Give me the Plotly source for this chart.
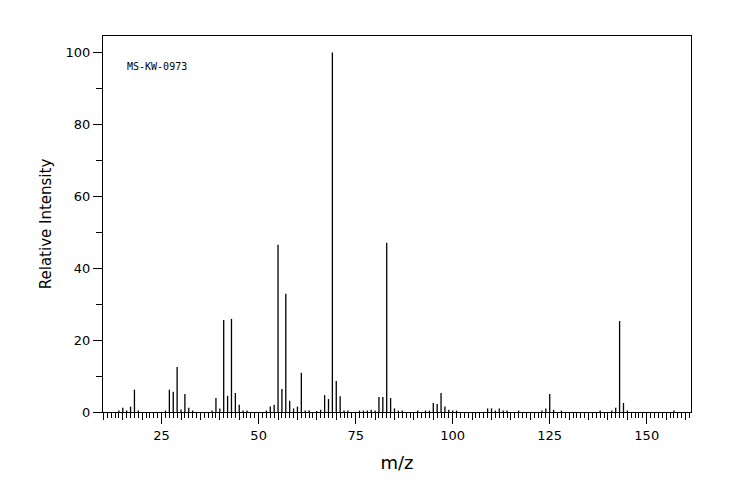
import plotly.graph_objects as go

mz = [14, 15, 16, 17, 18, 19, 26, 27, 28, 29, 30, 31, 32, 33, 38, 39, 40, 41, 42, 43,
      44, 45, 46, 47, 52, 53, 54, 55, 56, 57, 58, 59, 60, 61, 62, 63, 65, 66, 67, 68,
      69, 70, 71, 72, 73, 76, 77, 78, 79, 80, 81, 82, 83, 84, 85, 86, 87, 91, 93, 94,
      95, 96, 97, 98, 99, 100, 101, 109, 110, 111, 112, 113, 114, 117, 123, 124, 125,
      126, 128, 138, 141, 142, 143, 144, 145, 157]
intensity = [0.4, 1.2, 0.4, 1.5, 6.2, 0.4, 0.4, 6.2, 5.6, 12.5, 0.7, 5.0, 1.2, 0.4, 0.4, 3.9, 1.0, 25.6, 4.5, 25.9,
             5.3, 2.0, 0.4, 0.4, 0.4, 1.5, 2.0, 46.5, 6.4, 32.9, 3.1, 1.0, 1.5, 10.9, 0.4, 0.5, 0.3, 0.6, 4.7, 3.6,
             100.0, 8.6, 4.4, 0.4, 0.4, 0.4, 0.4, 0.4, 0.6, 0.4, 4.2, 4.2, 47.1, 3.9, 1.0, 0.4, 0.4, 0.4, 0.4, 0.4,
             2.5, 2.2, 5.3, 1.5, 0.6, 0.4, 0.4, 1.0, 1.0, 0.4, 1.0, 0.4, 0.4, 0.4, 0.4, 1.0, 5.0,
             0.6, 0.4, 0.4, 0.4, 1.2, 25.3, 2.5, 0.4, 0.4]

x_range = [9.9, 161.4]
y_range = [0, 104.6]
sample_id = "MS-KW-0973"

font_main = "DejaVu Sans"

# stick spectrum: one vertical segment per peak
stem_x, stem_y = [], []
for m, v in zip(mz, intensity):
    stem_x += [m, m, None]
    stem_y += [0, v, None]

fig = go.Figure()
fig.add_trace(go.Scatter(x=stem_x, y=stem_y, mode="lines",
                         line=dict(color="black", width=1.3),
                         hoverinfo="skip", showlegend=False))

fig.update_layout(
    width=744, height=500,
    margin=dict(l=95, r=61, t=28, b=96),
    paper_bgcolor="white", plot_bgcolor="white",
    font=dict(family=font_main, size=13, color="black"),
    xaxis=dict(
        range=x_range, showgrid=False, zeroline=False,
        showline=True, linecolor="black", linewidth=1, mirror=True,
        ticks="outside", tickmode="linear", tick0=0, dtick=25, ticklen=11,
        tickcolor="black", tickwidth=1,
        minor=dict(ticks="outside", tickmode="linear", tick0=0, dtick=5, ticklen=7,
                   tickcolor="black", tickwidth=1, showgrid=False),
        tickfont=dict(family=font_main, size=13, color="black"),
        title=dict(text="m/z", font=dict(family=font_main, size=18, color="black"), standoff=14),
    ),
    xaxis2=dict(
        range=x_range, overlaying="x", anchor="y", side="bottom",
        showgrid=False, zeroline=False, showline=False, showticklabels=False,
        ticks="outside", tickmode="linear", tick0=0, dtick=1, ticklen=5,
        tickcolor="black", tickwidth=1,
    ),
    yaxis=dict(
        range=y_range, showgrid=False, zeroline=False,
        showline=True, linecolor="black", linewidth=1, mirror=True,
        ticks="outside", tickmode="linear", tick0=0, dtick=20, ticklen=9,
        tickcolor="black", tickwidth=1,
        minor=dict(ticks="outside", tickmode="linear", tick0=0, dtick=10, ticklen=6,
                   tickcolor="black", tickwidth=1, showgrid=False),
        tickfont=dict(family=font_main, size=13, color="black"),
        title=dict(text="Relative Intensity", font=dict(family=font_main, size=15, color="black"), standoff=10),
    ),
    annotations=[dict(text=sample_id, xref="paper", yref="paper", x=0.037, y=0.918,
                      xanchor="left", yanchor="middle", showarrow=False,
                      font=dict(family="DejaVu Sans Mono", size=10, color="black"))],
)

fig.add_trace(go.Scatter(x=[], y=[], xaxis="x2", yaxis="y", showlegend=False, hoverinfo="skip"))

fig.write_html("out.html")
